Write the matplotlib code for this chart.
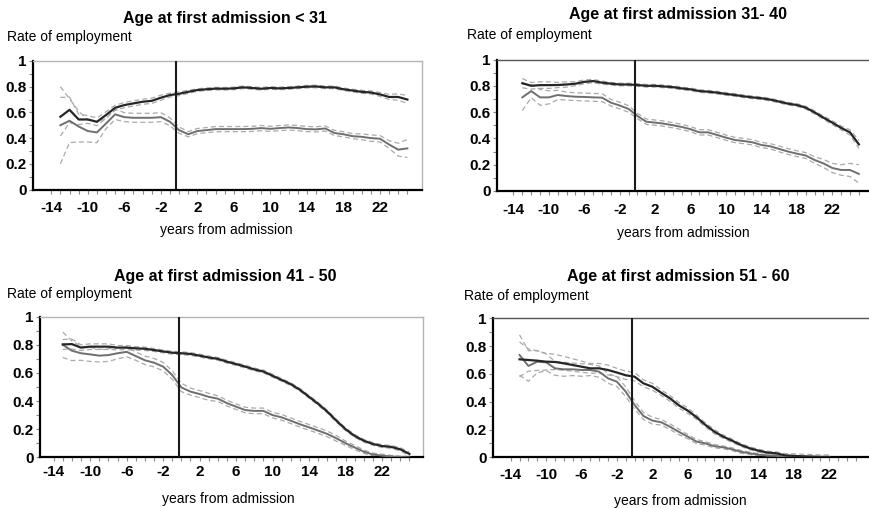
import numpy as np
import matplotlib
matplotlib.use('Agg')
import matplotlib.pyplot as plt
from matplotlib.ticker import FixedLocator

plt.rcParams['font.family'] = ['Liberation Sans', 'DejaVu Sans']

W, H = 870, 508

# years relative to first admission
years = np.arange(-13, 26)
years_5160 = np.arange(-13, 23)

x_major = [-14, -10, -6, -2, 2, 6, 10, 14, 18, 22]
x_major_labels = ['-14', '-10', '-6', '-2', '2', '6', '10', '14', '18', '22']
y_major = [0, 0.2, 0.4, 0.6, 0.8, 1.0]
y_major_labels = ['0', '0.2', '0.4', '0.6', '0.8', '1']

titles = ['Age at first admission < 31', 'Age at first admission 31- 40',
          'Age at first admission 41 - 50', 'Age at first admission 51 - 60']

# dark line (a) and grey line (b), with half-width of the dashed band
u31_a = [0.566, 0.62, 0.545, 0.545, 0.527, 0.58, 0.636, 0.657, 0.67, 0.683, 0.69, 0.714, 0.735,
         0.745, 0.76, 0.774, 0.78, 0.785, 0.784, 0.787, 0.795, 0.79, 0.784, 0.79, 0.787, 0.79,
         0.795, 0.80, 0.802, 0.795, 0.795, 0.78, 0.77, 0.76, 0.755, 0.74, 0.72, 0.72, 0.70]
u31_a_ci = [0.15, 0.10, 0.04, 0.03, 0.03, 0.025, 0.02, 0.02, 0.02, 0.02, 0.02, 0.02, 0.015,
            0.015, 0.012, 0.01, 0.01, 0.01, 0.01, 0.01, 0.01, 0.01, 0.01, 0.01, 0.01, 0.01,
            0.01, 0.01, 0.01, 0.01, 0.01, 0.01, 0.01, 0.012, 0.012, 0.015, 0.02, 0.025, 0.03]
u31_b = [0.50, 0.535, 0.49, 0.455, 0.444, 0.514, 0.585, 0.563, 0.558, 0.558, 0.558, 0.563, 0.527,
         0.462, 0.43, 0.455, 0.462, 0.47, 0.47, 0.47, 0.47, 0.472, 0.478, 0.472, 0.478, 0.483,
         0.478, 0.47, 0.468, 0.475, 0.44, 0.43, 0.415, 0.41, 0.40, 0.395, 0.35, 0.31, 0.32]
u31_b_ci = [0.30, 0.17, 0.12, 0.085, 0.08, 0.04, 0.04, 0.035, 0.035, 0.035, 0.035, 0.035, 0.03,
            0.025, 0.02, 0.02, 0.02, 0.02, 0.02, 0.02, 0.02, 0.02, 0.02, 0.02, 0.02, 0.02,
            0.02, 0.02, 0.02, 0.02, 0.02, 0.02, 0.02, 0.022, 0.025, 0.025, 0.03, 0.05, 0.07]

a3140_a = [0.82, 0.80, 0.805, 0.805, 0.806, 0.81, 0.816, 0.83, 0.836, 0.824, 0.816, 0.81, 0.81,
           0.806, 0.80, 0.80, 0.795, 0.79, 0.78, 0.773, 0.76, 0.755, 0.748, 0.738, 0.73, 0.72,
           0.712, 0.705, 0.695, 0.68, 0.664, 0.654, 0.634, 0.598, 0.558, 0.52, 0.48, 0.446, 0.355]
a3140_a_ci = [0.035, 0.025, 0.025, 0.025, 0.02, 0.02, 0.015, 0.015, 0.012, 0.012, 0.01, 0.01, 0.01,
              0.01, 0.01, 0.01, 0.01, 0.01, 0.01, 0.01, 0.01, 0.01, 0.01, 0.01, 0.01, 0.01,
              0.01, 0.01, 0.01, 0.01, 0.01, 0.01, 0.01, 0.012, 0.012, 0.015, 0.015, 0.02, 0.03]
a3140_b = [0.712, 0.76, 0.712, 0.712, 0.73, 0.722, 0.717, 0.715, 0.712, 0.71, 0.672, 0.65, 0.624,
           0.57, 0.527, 0.52, 0.512, 0.50, 0.487, 0.47, 0.446, 0.446, 0.426, 0.406, 0.388, 0.38,
           0.37, 0.35, 0.34, 0.32, 0.30, 0.284, 0.27, 0.236, 0.21, 0.175, 0.16, 0.16, 0.13]
a3140_b_ci = [0.10, 0.05, 0.06, 0.05, 0.035, 0.03, 0.03, 0.03, 0.03, 0.03, 0.025, 0.025, 0.025,
              0.02, 0.02, 0.02, 0.02, 0.02, 0.02, 0.02, 0.02, 0.02, 0.02, 0.02, 0.02, 0.02,
              0.02, 0.02, 0.02, 0.022, 0.022, 0.022, 0.022, 0.025, 0.03, 0.035, 0.04, 0.05, 0.07]

a4150_a = [0.803, 0.805, 0.78, 0.787, 0.787, 0.787, 0.78, 0.78, 0.775, 0.772, 0.763, 0.753, 0.744,
           0.74, 0.735, 0.723, 0.71, 0.70, 0.68, 0.663, 0.645, 0.625, 0.61, 0.58, 0.55, 0.52,
           0.48, 0.43, 0.38, 0.325, 0.26, 0.20, 0.152, 0.118, 0.095, 0.08, 0.074, 0.057, 0.024]
a4150_a_ci = [0.035, 0.035, 0.02, 0.02, 0.02, 0.02, 0.015, 0.015, 0.012, 0.012, 0.01, 0.01, 0.01,
              0.01, 0.01, 0.01, 0.01, 0.01, 0.01, 0.01, 0.01, 0.01, 0.01, 0.01, 0.01, 0.01,
              0.01, 0.01, 0.01, 0.01, 0.01, 0.01, 0.01, 0.01, 0.01, 0.01, 0.01, 0.012, 0.012]
a4150_b = [0.80, 0.758, 0.74, 0.732, 0.723, 0.727, 0.74, 0.75, 0.72, 0.69, 0.673, 0.645, 0.585,
           0.497, 0.467, 0.45, 0.43, 0.417, 0.385, 0.36, 0.336, 0.33, 0.33, 0.30, 0.284, 0.26,
           0.235, 0.213, 0.19, 0.166, 0.135, 0.10, 0.07, 0.04, 0.02, 0.012, 0.005, 0.002, 0.0]
a4150_b_ci = [0.09, 0.07, 0.05, 0.05, 0.045, 0.045, 0.04, 0.035, 0.03, 0.03, 0.03, 0.03, 0.03,
              0.03, 0.025, 0.025, 0.025, 0.02, 0.02, 0.02, 0.02, 0.02, 0.02, 0.02, 0.02, 0.02,
              0.02, 0.02, 0.02, 0.02, 0.02, 0.015, 0.015, 0.012, 0.01, 0.01, 0.008, 0.005, 0.005]

a5160_a = [0.705, 0.70, 0.695, 0.688, 0.686, 0.676, 0.664, 0.652, 0.64, 0.64, 0.628, 0.61, 0.59,
           0.58, 0.532, 0.508, 0.465, 0.424, 0.374, 0.336, 0.288, 0.233, 0.185, 0.149, 0.12,
           0.089, 0.065, 0.048, 0.034, 0.029, 0.014, 0.01, 0.007, 0.005, 0.002, 0.002]
a5160_a_ci = [0.125, 0.08, 0.07, 0.06, 0.055, 0.05, 0.045, 0.04, 0.035, 0.035, 0.035, 0.03, 0.03,
              0.03, 0.025, 0.025, 0.02, 0.02, 0.02, 0.02, 0.015, 0.015, 0.015, 0.012, 0.012,
              0.01, 0.01, 0.01, 0.01, 0.01, 0.012, 0.015, 0.015, 0.015, 0.015, 0.015]
a5160_b = [0.736, 0.657, 0.688, 0.683, 0.64, 0.633, 0.633, 0.628, 0.628, 0.616, 0.568, 0.544, 0.472,
           0.376, 0.297, 0.264, 0.252, 0.22, 0.183, 0.149, 0.113, 0.10, 0.08, 0.072, 0.058,
           0.04, 0.029, 0.019, 0.012, 0.01, 0.005, 0.005, 0.003, 0.002, 0.002, 0.0]
a5160_b_ci = [0.145, 0.11, 0.08, 0.06, 0.05, 0.05, 0.045, 0.045, 0.04, 0.04, 0.035, 0.035, 0.035,
              0.03, 0.025, 0.025, 0.02, 0.02, 0.02, 0.015, 0.015, 0.012, 0.012, 0.01, 0.01,
              0.01, 0.008, 0.008, 0.006, 0.006, 0.005, 0.005, 0.005, 0.005, 0.005, 0.005]

ADMISSION = -0.3

DARK = '#262626'
GREY = '#6f6f6f'
DASH = '#a9a9a9'
TICK = '#8a8a8a'


def px_rect(left, top, right, bottom):
    return [left / W, 1 - bottom / H, (right - left) / W, (bottom - top) / H]


def ftext(fig, x, y, s, **kw):
    fig.text(x / W, 1 - y / H, s, **kw)


# layout in pixels: axes box, xlim, title / ylabel / xlabel anchors, tick pad, top spine colour
layout = [
    dict(box=(33, 61, 422, 189.5), xlim=(-16, 26.6), title=(225, 18), ylab=(7, 37),
         xlab=(226, 230), pad=5.5, frame='#b4b4b4'),
    dict(box=(497, 59.5, 873, 191), xlim=(-15.86, 26.6), title=(678, 15), ylab=(467, 35),
         xlab=(683, 233), pad=6.0, frame='#555555'),
    dict(box=(40, 316.7, 422.7, 457.3), xlim=(-15.5, 26.46), title=(225, 276), ylab=(7, 294),
         xlab=(228, 499), pad=2.5, frame='#b4b4b4'),
    dict(box=(493, 318.3, 870, 457.3), xlim=(-16, 26.6), title=(678, 277), ylab=(464, 296),
         xlab=(680, 501), pad=5.0, frame='#555555'),
]

series = [
    (years, u31_a, u31_a_ci, u31_b, u31_b_ci),
    (years, a3140_a, a3140_a_ci, a3140_b, a3140_b_ci),
    (years, a4150_a, a4150_a_ci, a4150_b, a4150_b_ci),
    (years_5160, a5160_a, a5160_a_ci, a5160_b, a5160_b_ci),
]

fig = plt.figure(figsize=(W / 100, H / 100), dpi=100, facecolor='white')

for title, lay, (x, a, a_ci, b, b_ci) in zip(titles, layout, series):
    ax = fig.add_axes(px_rect(*lay['box']))
    for m, hw in ((a, a_ci), (b, b_ci)):
        m = np.asarray(m)
        hw = np.asarray(hw)
        for band in (m + hw, m - hw):
            ax.plot(x, band, color=DASH, lw=0.9, ls=(0, (4, 2.5)), zorder=2)
    ax.plot(x, b, color=GREY, lw=1.4, zorder=3)
    ax.plot(x, a, color=DARK, lw=1.6, zorder=4)
    ax.axvline(ADMISSION, ymin=0.01, color='#1a1a1a', lw=1.5, zorder=5)

    ax.set_xlim(*lay['xlim'])
    ax.set_ylim(0, 1)
    ax.set_xticks(x_major)
    ax.set_xticklabels(x_major_labels)
    ax.xaxis.set_minor_locator(FixedLocator(range(-14, 26)))
    ax.set_yticks(y_major)
    ax.set_yticklabels(y_major_labels)
    ax.yaxis.set_minor_locator(FixedLocator(np.arange(0, 1.01, 0.1)))

    ax.tick_params(which='both', direction='out', length=3, width=0.8, color=TICK)
    ax.tick_params(axis='x', which='major', pad=lay['pad'])
    ax.tick_params(axis='y', which='major', pad=1.5)
    for lbl in ax.get_xticklabels() + ax.get_yticklabels():
        lbl.set_fontsize(11)
        lbl.set_fontweight('bold')

    for side in ('left', 'bottom'):
        ax.spines[side].set_color('black')
        ax.spines[side].set_linewidth(1.6)
    for side in ('top', 'right'):
        ax.spines[side].set_color(lay['frame'])
        ax.spines[side].set_linewidth(1.0)

    ftext(fig, *lay['title'], title, ha='center', va='center', fontsize=11.5, fontweight='bold')
    ftext(fig, *lay['ylab'], 'Rate of employment', ha='left', va='center', fontsize=10)
    ftext(fig, *lay['xlab'], 'years from admission', ha='center', va='center', fontsize=10)

fig.savefig('out.png', dpi=100, facecolor='white')
